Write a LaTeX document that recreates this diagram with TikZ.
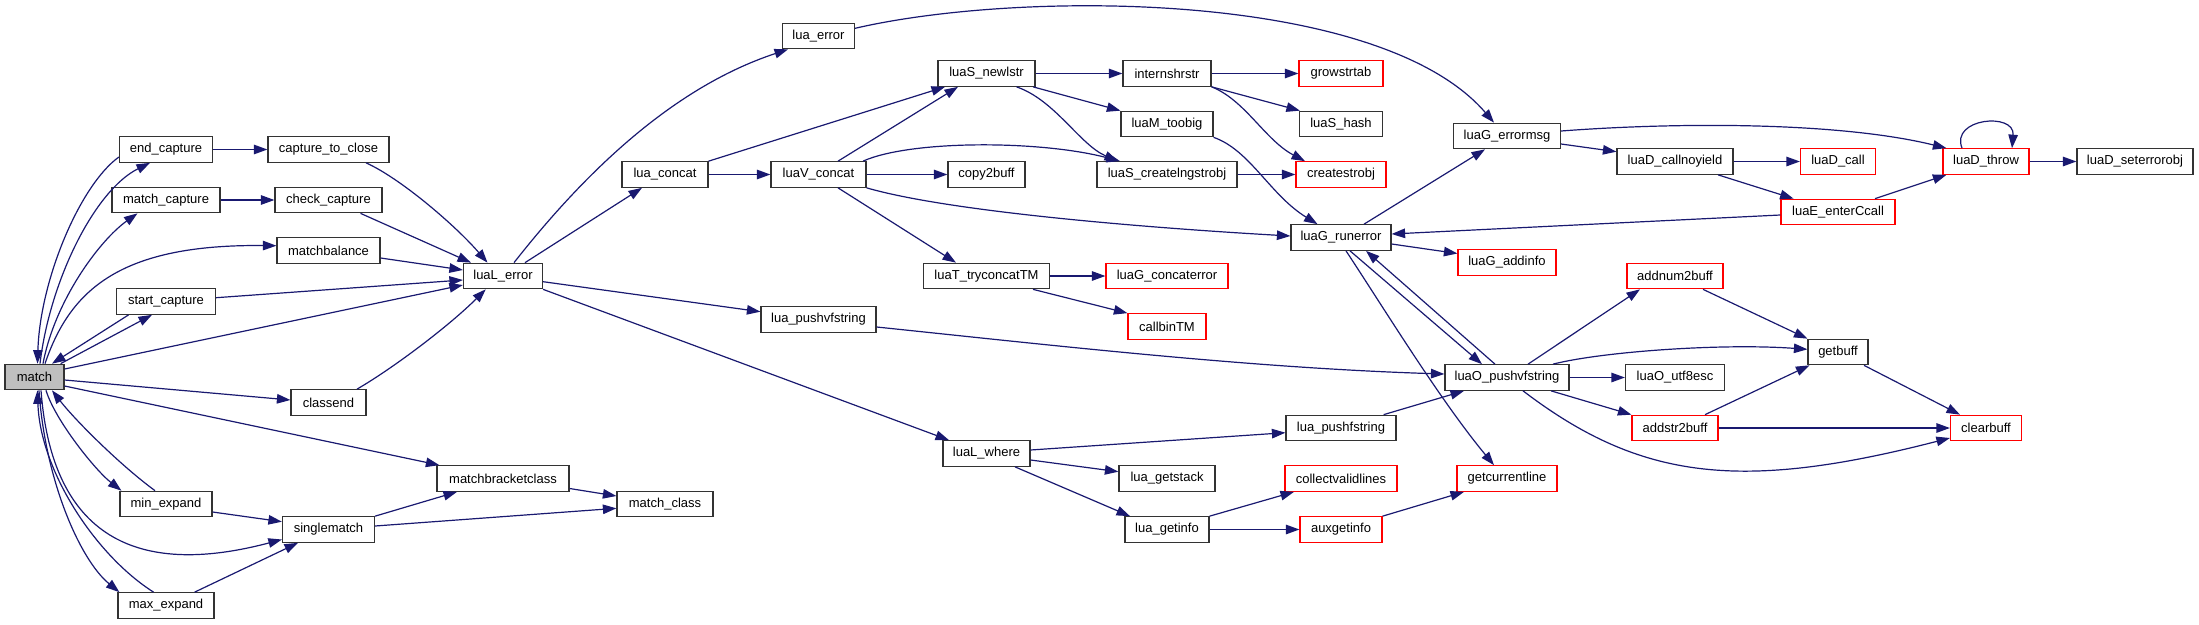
\documentclass[tikz,border=0pt]{standalone}
\usepackage{fontspec}
\setmainfont{Liberation Sans}
\usetikzlibrary{arrows.meta}
\definecolor{edgeblue}{HTML}{191970}
\begin{document}
\begin{tikzpicture}[x=1pt,y=-1pt,
  fn/.style={draw=black!80, line width=1.2pt, fill=white, minimum height=25.5pt, inner sep=0pt, font=\fontsize{13}{15}\selectfont, text=black},
  fnred/.style={fn, draw=red},
  fnroot/.style={fn, fill=black!25},
  call/.style={draw=edgeblue, line width=1.2pt, -{Triangle[length=13.5pt,width=9.5pt]}}]
\useasboundingbox (0,0) rectangle (2199,624);
% column 1-3
\node[fnroot, minimum width=59pt] (match) at (34.5,377) {match};
\node[fn, minimum width=93pt] (end_capture) at (166,149.5) {end\_capture};
\node[fn, minimum width=108pt] (match_capture) at (166,200) {match\_capture};
\node[fn, minimum width=99pt] (start_capture) at (166,301.5) {start\_capture};
\node[fn, minimum width=92pt] (min_expand) at (166,504) {min\_expand};
\node[fn, minimum width=96pt] (max_expand) at (166,605.5) {max\_expand};
\node[fn, minimum width=121pt] (capture_to_close) at (328.5,149.5) {capture\_to\_close};
\node[fn, minimum width=107pt] (check_capture) at (328.5,200) {check\_capture};
\node[fn, minimum width=103pt] (matchbalance) at (328.5,250.5) {matchbalance};
\node[fn, minimum width=75pt] (classend) at (328.5,402.5) {classend};
\node[fn, minimum width=92pt] (singlematch) at (328.5,529.5) {singlematch};
% column 4-7
\node[fn, minimum width=79pt] (luaL_error) at (503,276) {luaL\_error};
\node[fn, minimum width=132pt] (matchbracketclass) at (503,478.5) {matchbracketclass};
\node[fn, minimum width=86pt] (lua_concat) at (665,174.5) {lua\_concat};
\node[fn, minimum width=96pt] (match_class) at (665,504) {match\_class};
\node[fn, minimum width=72pt] (lua_error) at (818.5,36) {lua\_error};
\node[fn, minimum width=95pt] (luaV_concat) at (818.5,174.5) {luaV\_concat};
\node[fn, minimum width=115pt] (lua_pushvfstring) at (818.5,319.5) {lua\_pushvfstring};
\node[fn, minimum width=97pt] (luaS_newlstr) at (986.5,73.5) {luaS\_newlstr};
\node[fn, minimum width=77pt] (copy2buff) at (986.5,174.5) {copy2buff};
\node[fn, minimum width=126pt] (luaT_tryconcatTM) at (986.5,276) {luaT\_tryconcatTM};
\node[fn, minimum width=87pt] (luaL_where) at (986.5,453.5) {luaL\_where};
% column 8-9
\node[fn, minimum width=88pt] (internshrstr) at (1167,73.5) {internshrstr};
\node[fn, minimum width=92pt] (luaM_toobig) at (1167,124) {luaM\_toobig};
\node[fn, minimum width=140pt] (luaS_createlngstrobj) at (1167,174.5) {luaS\_createlngstrobj};
\node[fnred, minimum width=122pt] (luaG_concaterror) at (1167,276) {luaG\_concaterror};
\node[fnred, minimum width=78pt] (callbinTM) at (1167,326.5) {callbinTM};
\node[fn, minimum width=96pt] (lua_getstack) at (1167,478.5) {lua\_getstack};
\node[fn, minimum width=84pt] (lua_getinfo) at (1167,529.5) {lua\_getinfo};
\node[fnred, minimum width=84pt] (growstrtab) at (1341,73.5) {growstrtab};
\node[fn, minimum width=83pt] (luaS_hash) at (1341,124) {luaS\_hash};
\node[fnred, minimum width=90pt] (createstrobj) at (1341,174.5) {createstrobj};
\node[fn, minimum width=100pt] (luaG_runerror) at (1341,237.5) {luaG\_runerror};
\node[fn, minimum width=110pt] (lua_pushfstring) at (1341,428) {lua\_pushfstring};
\node[fnred, minimum width=112pt] (collectvalidlines) at (1341,478.5) {collectvalidlines};
\node[fnred, minimum width=82pt] (auxgetinfo) at (1341,529.5) {auxgetinfo};
% column 10-14
\node[fn, minimum width=107pt] (luaG_errormsg) at (1507,136) {luaG\_errormsg};
\node[fnred, minimum width=98pt] (luaG_addinfo) at (1507,262.5) {luaG\_addinfo};
\node[fn, minimum width=124pt] (luaO_pushvfstring) at (1507,377.5) {luaO\_pushvfstring};
\node[fnred, minimum width=100pt] (getcurrentline) at (1507,478.5) {getcurrentline};
\node[fn, minimum width=116pt] (luaD_callnoyield) at (1675,161.5) {luaD\_callnoyield};
\node[fnred, minimum width=96pt] (addnum2buff) at (1675,276) {addnum2buff};
\node[fn, minimum width=99pt] (luaO_utf8esc) at (1675,377.5) {luaO\_utf8esc};
\node[fnred, minimum width=86pt] (addstr2buff) at (1675,428) {addstr2buff};
\node[fnred, minimum width=75pt] (luaD_call) at (1838,161.5) {luaD\_call};
\node[fnred, minimum width=114pt] (luaE_enterCcall) at (1838,212) {luaE\_enterCcall};
\node[fn, minimum width=60pt] (getbuff) at (1838,352) {getbuff};
\node[fnred, minimum width=86pt] (luaD_throw) at (1986,161.5) {luaD\_throw};
\node[fnred, minimum width=71pt] (clearbuff) at (1986,428) {clearbuff};
\node[fn, minimum width=116pt] (luaD_seterrorobj) at (2135,161.5) {luaD\_seterrorobj};

% edges from match and its callees
\draw[call] ([xshift=5.5pt]match.north) .. controls (50,280) and (95,190) .. ([xshift=-16pt]end_capture.south);
\draw[call] ([yshift=-7.5pt]end_capture.west) .. controls (80,185) and (40,280) .. ([xshift=3pt]match.north);
\draw[call] ([xshift=8.5pt]match.north) .. controls (55,300) and (100,240) .. ([xshift=-28.5pt]match_capture.south);
\draw[call] ([xshift=10.5pt]match.north) .. controls (70,290) and (120,244) .. ([yshift=4.8pt]matchbalance.west);
\draw[call] ([xshift=-37.4pt]start_capture.south) -- ([xshift=17.5pt]match.north);
\draw[call] ([xshift=-4pt]match.north east) -- ([xshift=-14pt]start_capture.south);
\draw[call] ([yshift=8pt]match.east) -- ([yshift=-9pt]luaL_error.west);
\draw[call] ([yshift=-3pt]match.east) -- ([yshift=2.5pt]classend.west);
\draw[call] ([yshift=-9pt]match.east) -- ([xshift=3pt]matchbracketclass.north west);
\draw[call] ([xshift=11.5pt]match.south) .. controls (55,420) and (95,470) .. ([xshift=2pt]min_expand.north west);
\draw[call] ([xshift=-11pt]min_expand.north) .. controls (120,465) and (75,420) .. ([xshift=17.5pt]match.south);
\draw[call] ([xshift=6.5pt]match.south) .. controls (50,510) and (110,585) .. ([yshift=-10pt]singlematch.west);
\draw[call] ([xshift=4.5pt]match.south) .. controls (45,480) and (80,560) .. ([xshift=2pt]max_expand.north west);
\draw[call] ([xshift=-12.4pt]max_expand.north) .. controls (95,555) and (40,470) .. ([xshift=3pt]match.south);
\draw[call] ([yshift=-8pt]min_expand.east) -- ([yshift=7.8pt]singlematch.west);
\draw[call] ([xshift=28.6pt]max_expand.north) -- ([xshift=-30.5pt]singlematch.south);
\draw[call] (singlematch.north east) -- ([xshift=-46pt]matchbracketclass.south);
\draw[call] ([yshift=3.5pt]singlematch.east) -- ([yshift=-4.3pt]match_class.west);
\draw[call] ([yshift=-10pt]matchbracketclass.east) -- ([yshift=8pt]match_class.west);
\draw[call] (end_capture) -- (capture_to_close);
\draw[call] (match_capture) -- (check_capture);
\draw[call] ([xshift=37.5pt]capture_to_close.south) .. controls (400,178) and (455,225) .. ([xshift=-15.5pt]luaL_error.north);
\draw[call] ([xshift=32pt]check_capture.south) -- ([xshift=-32pt]luaL_error.north);
\draw[call] ([yshift=-7.5pt]matchbalance.east) -- ([yshift=6pt]luaL_error.west);
\draw[call] ([yshift=3.8pt]start_capture.east) -- ([yshift=-4pt]luaL_error.west);
\draw[call] ([xshift=28.5pt]classend.north) .. controls (395,367) and (450,325) .. ([xshift=-17.3pt]luaL_error.south);

% luaL_error and onwards
\draw[call] ([xshift=11pt]luaL_error.north) .. controls (579,180) and (668,89) .. ([xshift=-30.5pt]lua_error.south);
\draw[call] ([xshift=22pt]luaL_error.north) -- ([xshift=-23pt]lua_concat.south);
\draw[call] ([yshift=-5.7pt]luaL_error.east) -- ([yshift=7.8pt]lua_pushvfstring.west);
\draw[call] (luaL_error.south east) -- ([xshift=-37.5pt]luaL_where.north);
\draw[call] ([yshift=7.7pt]lua_error.east) .. controls (1020,-10) and (1380,-10) .. ([xshift=-13pt]luaG_errormsg.north);
\draw[call] (lua_concat.north east) -- ([xshift=-41.5pt]luaS_newlstr.south);
\draw[call] (lua_concat) -- (luaV_concat);
\draw[call] ([xshift=19.5pt]luaV_concat.north) -- ([xshift=-28.5pt]luaS_newlstr.south);
\draw[call] ([xshift=44.5pt]luaV_concat.north) .. controls (910,140) and (1040,140) .. ([xshift=-47pt]luaS_createlngstrobj.north);
\draw[call] (luaV_concat) -- (copy2buff);
\draw[call] (luaV_concat.south east) .. controls (950,212) and (1150,228) .. ([yshift=1.5pt]luaG_runerror.west);
\draw[call] ([xshift=19.5pt]luaV_concat.south) -- ([xshift=-30.5pt]luaT_tryconcatTM.north);
\draw[call] (luaT_tryconcatTM) -- (luaG_concaterror);
\draw[call] ([xshift=46.5pt]luaT_tryconcatTM.south) -- (callbinTM.north west);
\draw[call] ([yshift=-7.5pt]lua_pushvfstring.east) .. controls (1050,345) and (1250,368) .. ([yshift=3.5pt]luaO_pushvfstring.west);
\draw[call] ([yshift=3.5pt]luaL_where.east) -- ([yshift=-4.7pt]lua_pushfstring.west);
\draw[call] ([yshift=-6.5pt]luaL_where.east) -- ([yshift=6.8pt]lua_getstack.west);
\draw[call] ([xshift=28.5pt]luaL_where.south) -- ([xshift=-37pt]lua_getinfo.north);
\draw[call] ([xshift=42.6pt]lua_pushfstring.north) -- ([xshift=-43pt]luaO_pushvfstring.south);
\draw[call] (lua_getinfo.north east) -- ([xshift=-47pt]collectvalidlines.south);
\draw[call] (lua_getinfo) -- (auxgetinfo);
\draw[call] (auxgetinfo.north east) -- ([xshift=-43pt]getcurrentline.south);

% string functions
\draw[call] (luaS_newlstr) -- (internshrstr);
\draw[call] ([xshift=46.5pt]luaS_newlstr.south) -- (luaM_toobig.north west);
\draw[call] ([xshift=30pt]luaS_newlstr.south) .. controls (1055,100) and (1080,145) .. ([xshift=-49pt]luaS_createlngstrobj.north);
\draw[call] (internshrstr) -- (growstrtab);
\draw[call] (internshrstr.south east) -- ([xshift=1pt]luaS_hash.north west);
\draw[call] (internshrstr.south east) .. controls (1245,100) and (1265,140) .. ([xshift=-36pt]createstrobj.north);
\draw[call] (luaM_toobig.south east) .. controls (1250,150) and (1270,195) .. ([xshift=-23.5pt]luaG_runerror.north);
\draw[call] (luaS_createlngstrobj) -- (createstrobj);

% error machinery
\draw[call] ([xshift=23pt]luaG_runerror.north) -- ([xshift=-22pt]luaG_errormsg.south);
\draw[call] ([yshift=-6.5pt]luaG_runerror.east) -- ([yshift=9pt]luaG_addinfo.west);
\draw[call] ([yshift=-3pt]luaE_enterCcall.west) -- ([yshift=3.5pt]luaG_runerror.east);
\draw[call] ([xshift=9pt]luaG_runerror.south) -- ([xshift=-25pt]luaO_pushvfstring.north);
\draw[call] ([xshift=-12pt]luaO_pushvfstring.north) -- ([xshift=25pt]luaG_runerror.south);
\draw[call] ([xshift=5pt]luaG_runerror.south) .. controls (1385,310) and (1440,400) .. ([xshift=-13pt]getcurrentline.north);
\draw[call] ([yshift=-8pt]luaG_errormsg.east) -- ([yshift=9.8pt]luaD_callnoyield.west);
\draw[call] ([yshift=5pt]luaG_errormsg.east) .. controls (1680,122) and (1840,122) .. ([xshift=4pt]luaD_throw.north west);
\draw[call] (luaD_callnoyield) -- (luaD_call);
\draw[call] ([xshift=43pt]luaD_callnoyield.south) -- ([xshift=-44.4pt]luaE_enterCcall.north);
\draw[call] ([xshift=37pt]luaE_enterCcall.north) -- ([xshift=4pt]luaD_throw.south west);
\draw[call] ([xshift=-24pt]luaD_throw.north) .. controls (1950,118) and (2015,112) .. ([xshift=26pt]luaD_throw.north);
\draw[call] (luaD_throw) -- (luaD_seterrorobj);

% buffer functions
\draw[call] ([xshift=21pt]luaO_pushvfstring.north) -- ([xshift=-35pt]addnum2buff.south);
\draw[call] ([xshift=46pt]luaO_pushvfstring.north) .. controls (1600,352) and (1720,343) .. ([yshift=2.7pt]getbuff.west);
\draw[call] (luaO_pushvfstring) -- (luaO_utf8esc);
\draw[call] ([xshift=44pt]luaO_pushvfstring.south) -- (addstr2buff.north west);
\draw[call] ([xshift=16pt]luaO_pushvfstring.south) .. controls (1640,480) and (1740,492) .. ([yshift=-10pt]clearbuff.west);
\draw[call] ([xshift=28pt]addnum2buff.south) -- (getbuff.north west);
\draw[call] ([xshift=30pt]addstr2buff.north) -- ([xshift=2pt]getbuff.south west);
\draw[call] (addstr2buff) -- (clearbuff);
\draw[call] ([xshift=26pt]getbuff.south) -- ([xshift=-26pt]clearbuff.north);
\end{tikzpicture}
\end{document}
